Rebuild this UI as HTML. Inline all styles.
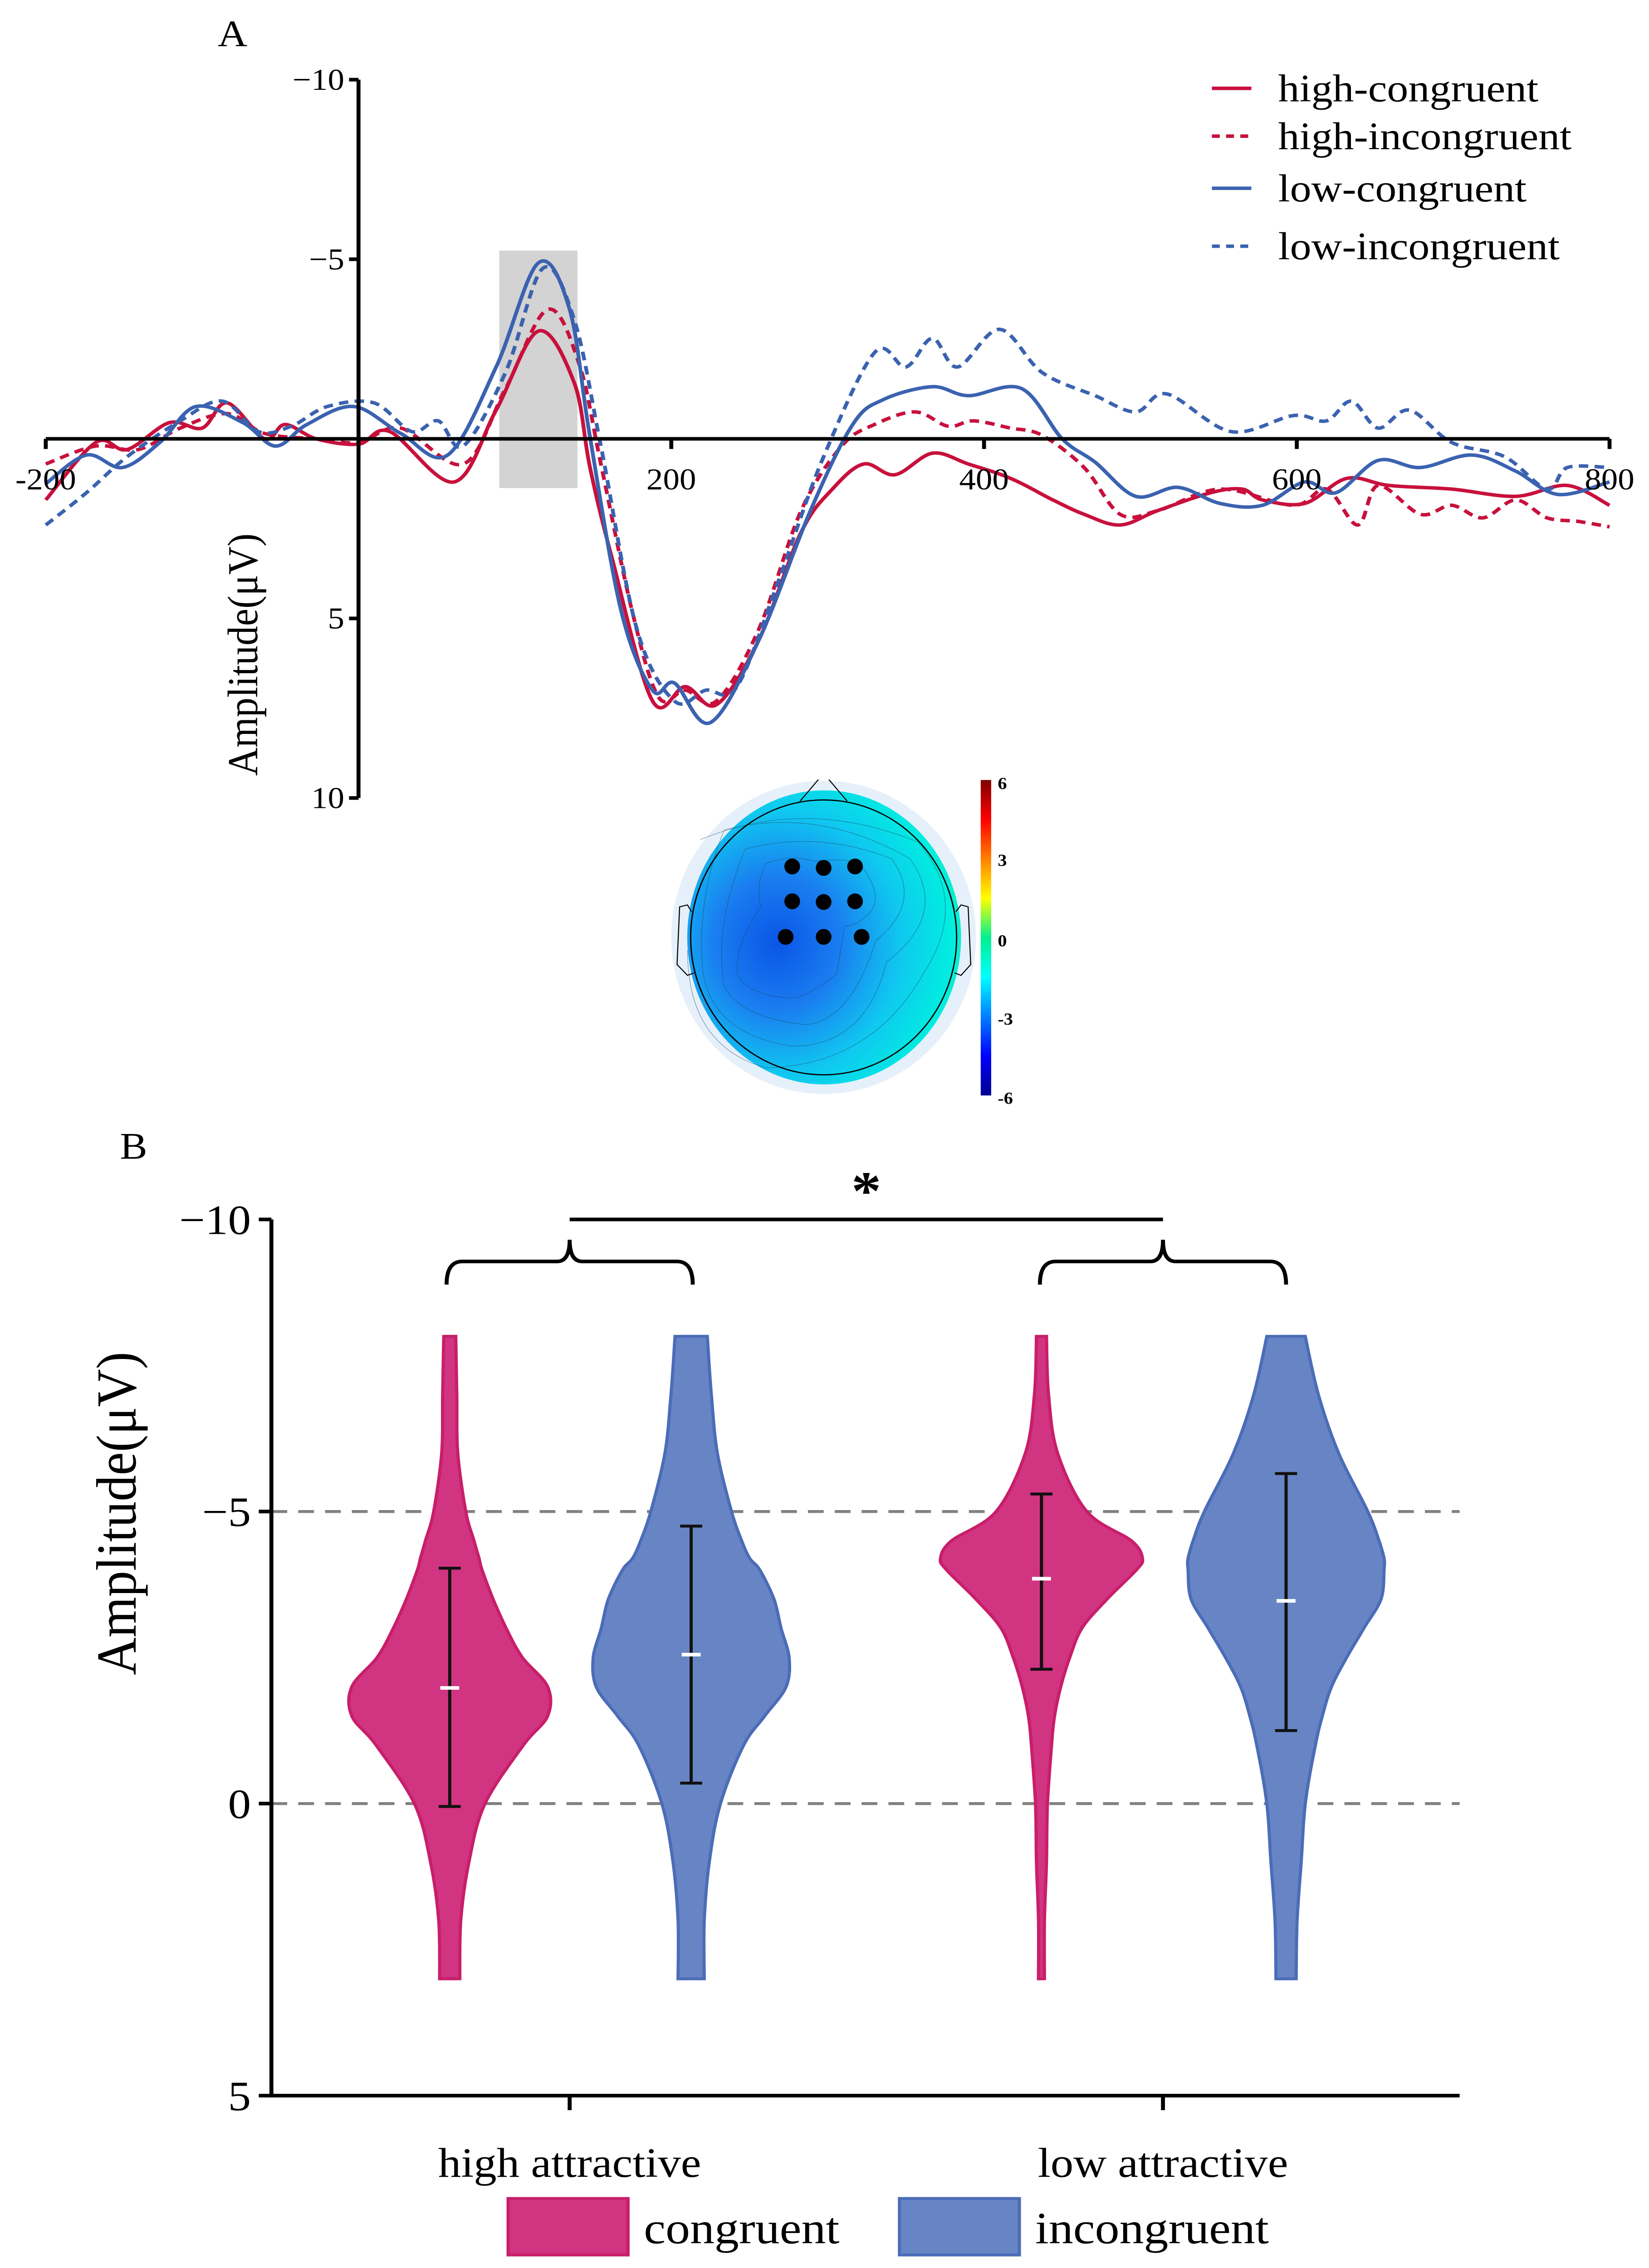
<!DOCTYPE html>
<html><head><meta charset="utf-8"><style>
html,body{margin:0;padding:0;background:#fff;overflow:hidden;width:100vw;height:100vh;}
svg{display:block;font-family:"Liberation Serif",serif;width:100vw;height:100vh;}
</style></head><body>
<svg id="fig" xmlns="http://www.w3.org/2000/svg" viewBox="0 0 1045 1566" preserveAspectRatio="none">
<defs>
<radialGradient id="topo" cx="0.33" cy="0.52" r="0.75">
<stop offset="0" stop-color="#0a55e6"/><stop offset="0.3" stop-color="#1a7df0"/><stop offset="0.6" stop-color="#10c8f0"/><stop offset="0.85" stop-color="#00eee0"/><stop offset="1" stop-color="#30e6a0"/>
</radialGradient>
<linearGradient id="cbar" x1="0" y1="1" x2="0" y2="0">
<stop offset="0" stop-color="#00008f"/><stop offset="0.125" stop-color="#0000ff"/><stop offset="0.375" stop-color="#00ffff"/><stop offset="0.5" stop-color="#00f090"/><stop offset="0.625" stop-color="#ffff00"/><stop offset="0.875" stop-color="#ff0000"/><stop offset="1" stop-color="#800000"/>
</linearGradient>
</defs>
<g id="panelA"><text x="138" y="32" font-size="26">A</text></g>
<g id="topomap" transform="translate(402.5,523.3) scale(0.1659)">
<ellipse cx="720" cy="747" rx="582" ry="652" fill="#e6f0fa"/>
<ellipse cx="722" cy="747" rx="523" ry="612" fill="url(#topo)"/>
<g fill="none" stroke="#1d4a60" stroke-width="2" opacity="0.6">
<path d="M500 440 Q600 400 680 430 Q760 420 850 430 Q950 560 900 640 Q850 700 800 700 L770 900 Q650 1000 600 1000 Q430 990 390 900 Q380 780 480 620 Q460 520 500 440Z"/>
<path d="M420 380 Q700 300 980 420 Q1100 600 920 760 Q820 1100 650 1110 Q400 1080 340 950 Q300 700 420 380Z"/>
<path d="M340 300 Q700 200 1050 420 Q1200 650 960 850 Q880 1200 600 1200 Q300 1150 260 900 Q230 600 340 300Z"/>
<path d="M250 340 Q650 160 1080 350 Q1280 600 1100 900 Q900 1280 500 1290 Q200 1200 200 800"/>
</g>
<ellipse cx="720" cy="747" rx="508" ry="572" fill="none" stroke="#000" stroke-width="5"/>
<path d="M630 180 L700 90 M740 90 L810 180" stroke="#000" stroke-width="4" fill="none"/>
<path d="M215 640 L200 612 L170 620 L160 860 L200 905 L225 895" stroke="#000" stroke-width="4" fill="none"/>
<path d="M1225 640 L1245 612 L1272 620 L1282 860 L1245 905 L1220 895" stroke="#000" stroke-width="4" fill="none"/>
<g id="electrodes" fill="#000"></g>
<rect x="1320" y="92" width="40" height="1313" fill="url(#cbar)"/>
<g font-size="70" font-weight="bold">
<text x="1385" y="130">6</text><text x="1385" y="450">3</text><text x="1385" y="785">0</text><text x="1385" y="1110">-3</text><text x="1385" y="1440">-6</text></g>
</g>
<g id="erp"></g>
<g id="violin"></g>
</svg>
<script>
// ===== ERP data (ms, µV; negative up) =====
const hcTimes=[-200,-168,-148,-121,-100,-84,-60,-47,-27,0,20,61,88,115,138,148,162,188,209,229,256,283,303,323,343,367,390,417,444,464,487,511,545,565,578,605,632,659,699,740,773,800];
const hcValues=[1.7,0.1,0.3,-0.45,-0.3,-1.0,0,-0.4,0,0.15,-0.2,1.2,-0.8,-3.0,-1.55,0.8,3.3,7.3,6.9,7.4,5.6,2.6,1.4,0.7,1.0,0.4,0.7,1.1,1.7,2.1,2.4,2.0,1.5,1.4,1.7,1.8,1.1,1.3,1.4,1.6,1.3,1.85];
const hiTimes=[-200,-168,-141,-114,-84,-60,-27,0,27,67,94,121,141,155,175,192,209,229,256,283,309,330,356,377,393,417,437,464,487,511,551,598,619,639,652,679,699,719,740,760,780,800];
const hiValues=[0.7,0.2,0.3,-0.3,-0.7,-0.15,0,0.1,-0.3,0.7,-1.4,-3.6,-2.1,0.7,4.8,7.2,7.0,7.3,5.3,2.0,0.2,-0.4,-0.75,-0.35,-0.5,-0.3,-0.1,0.8,2.1,2.0,1.4,1.85,1.4,2.4,1.3,2.1,1.85,2.2,1.7,2.2,2.3,2.45];
const lcTimes=[-200,-174,-151,-127,-104,-74,-53,-33,-3,27,57,88,115,135,148,168,188,202,225,256,289,316,336,367,390,424,450,471,497,524,551,578,605,625,652,679,712,740,767,800];
const lcValues=[1.25,0.45,0.8,0.1,-0.9,-0.45,0.2,-0.4,-0.9,-0.15,0.45,-2.0,-4.9,-3.6,-0.05,4.8,7.0,6.8,7.9,5.6,2.0,-0.4,-1.1,-1.45,-1.2,-1.4,0,0.65,1.6,1.35,1.8,1.85,1.2,1.5,0.6,0.8,0.45,0.9,1.55,1.2];
const liTimes=[-200,-174,-148,-114,-87,-64,-43,-20,10,34,51,67,94,118,138,155,178,202,222,242,269,296,330,350,367,383,410,437,471,497,517,558,598,619,635,652,672,699,733,760,773,800];
const liValues=[2.4,1.5,0.5,-0.5,-1.05,-0.2,-0.35,-0.9,-1.0,-0.2,-0.5,0.2,-1.85,-4.75,-3.3,0.2,5.3,7.3,7.0,6.9,3.9,0.65,-2.4,-2.0,-2.8,-2.0,-3.05,-1.85,-1.2,-0.75,-1.25,-0.2,-0.65,-0.5,-1.05,-0.3,-0.8,0.1,0.5,1.4,0.8,0.8];
const erpYTicks=[-10,-5,5,10];
const erpXTicks=[-200,200,400,600,800];
const legendLabels=["high-congruent","high-incongruent","low-congruent","low-incongruent"];
const windowRange=[90,140];
// ===== Violin data =====
const groups=["high attractive","low attractive"];
const conditions=["congruent","incongruent"];
const violinLevels=[-8,-7,-6,-5,-4.5,-4.2,-4,-3.5,-3,-2.5,-2,-1.5,-1,0,1,2,3];
const hcDensity=[0.06,0.07,0.08,0.16,0.24,0.29,0.32,0.43,0.56,0.72,0.97,0.97,0.73,0.35,0.19,0.11,0.10];
const hiDensity=[0.16,0.2,0.26,0.4,0.5,0.58,0.68,0.82,0.89,0.97,0.94,0.73,0.52,0.29,0.18,0.13,0.13];
const lcDensity=[0.05,0.07,0.16,0.45,0.89,1.0,0.94,0.65,0.40,0.28,0.19,0.13,0.1,0.06,0.05,0.03,0.03];
const liDensity=[0.19,0.32,0.52,0.81,0.92,0.97,0.97,0.94,0.77,0.6,0.45,0.36,0.29,0.19,0.15,0.11,0.1];
const violinMeans=[-1.98,-2.55,-3.85,-3.47];
const violinLow=[-4.03,-4.75,-5.3,-5.65];
const violinHigh=[0.05,-0.35,-2.3,-1.25];
const violinYTicks=[-10,-5,0,5];

const NS="http://www.w3.org/2000/svg";
function mk(tag,attrs,parent){const e=document.createElementNS(NS,tag);for(const k in attrs)e.setAttribute(k,attrs[k]);parent.appendChild(e);return e;}
// ---- electrodes
const elec=document.getElementById('electrodes');
const ex=[600,720,840,600,720,840,575,720,865], ey=[452,458,452,597,600,597,745,745,745];
for(let i=0;i<9;i++){const c=mk('ellipse',{cx:ex[i],cy:ey[i],rx:30,ry:33},elec);

}

// ---- ERP chart
const erp=document.getElementById('erp');
const ex0=29,ex1=1020,ey0=55,ey1=551;
const xs=t=>ex0+(t+200)/1000*(ex1-ex0);
const ys=v=>ey0+(v+10)/20*(ey1-ey0);
let r=mk('rect',{x:xs(windowRange[0]),y:173,width:xs(windowRange[1])-xs(windowRange[0]),height:164,fill:'#d3d3d3'},erp);


function smooth(px,py){let d='M'+px[0]+' '+py[0];for(let i=0;i<px.length-1;i++){const p0=i?i-1:0,p3=i+2<px.length?i+2:i+1;
const c1x=px[i]+(px[i+1]-px[p0])/6,c1y=py[i]+(py[i+1]-py[p0])/6,c2x=px[i+1]-(px[p3]-px[i])/6,c2y=py[i+1]-(py[p3]-py[i])/6;
d+=' C'+c1x.toFixed(1)+' '+c1y.toFixed(1)+' '+c2x.toFixed(1)+' '+c2y.toFixed(1)+' '+px[i+1].toFixed(1)+' '+py[i+1].toFixed(1);}return d;}
const series=[[hcTimes,hcValues,'#c8103c',''],[hiTimes,hiValues,'#c8103c','6 4'],[lcTimes,lcValues,'#3a62b0',''],[liTimes,liValues,'#3a62b0','6 4']];
const snames=['high-congruent-line','high-incongruent-line','low-congruent-line','low-incongruent-line'];
series.forEach((s,i)=>{const p=mk('path',{d:smooth(s[0].map(xs),s[1].map(ys)),fill:'none',stroke:s[2],'stroke-width':2.4},erp);
if(s[3])p.setAttribute('stroke-dasharray',s[3]);

});
let a=mk('line',{x1:ex0,y1:ys(0),x2:ex1,y2:ys(0),stroke:'#000','stroke-width':2.5},erp);


a=mk('line',{x1:xs(0),y1:ey0,x2:xs(0),y2:ey1,stroke:'#000','stroke-width':2.5},erp);


erpYTicks.forEach(v=>{mk('line',{x1:xs(0)-6,y1:ys(v),x2:xs(0),y2:ys(v),stroke:'#000','stroke-width':2.5},erp);
const t=mk('text',{x:xs(0)-9,y:ys(v)+7,'font-size':21,'text-anchor':'end'},erp);t.textContent=v<0?'\u2212'+(-v):v;

});
erpXTicks.forEach(v=>{mk('line',{x1:xs(v),y1:ys(0),x2:xs(v),y2:ys(0)+7,stroke:'#000','stroke-width':2.5},erp);
const t=mk('text',{x:xs(v),y:ys(0)+35,'font-size':21,'text-anchor':'middle'},erp);t.textContent=v<0?'-'+(-v):v;

});
let yt=mk('text',{x:0,y:0,'font-size':27,'text-anchor':'middle',transform:'translate(163,452) rotate(-90)'},erp);yt.textContent='Amplitude(\u03bcV)';


const legY=[61,94,130,170];
legendLabels.forEach((l,i)=>{const s=series[i];const ll=mk('line',{x1:768,y1:legY[i],x2:793,y2:legY[i],stroke:s[2],'stroke-width':2.4},erp);
if(s[3])ll.setAttribute('stroke-dasharray','5 4');
const t=mk('text',{x:810,y:legY[i]+9,'font-size':27},erp);t.textContent=l;

});

// ---- Violin chart
const vg=document.getElementById('violin');
const vx0=172,vx1=925,vy0=842,vy1=1447;
const vy=v=>vy0+(v+10)/15*(vy1-vy0);
const vcenters=[285,438,660,815], maxHalf=64;
const dens=[hcDensity,hiDensity,lcDensity,liDensity];
const fills=['#d13480','#6785c4','#d13480','#6785c4'], strokes=['#c81e6a','#4b6cb8','#c81e6a','#4b6cb8'];
const vnames=['violin-high-congruent','violin-high-incongruent','violin-low-congruent','violin-low-incongruent'];
[-5,0].forEach(v=>{const l=mk('line',{x1:vx0,y1:vy(v),x2:vx1,y2:vy(v),stroke:'#808080','stroke-width':2,'stroke-dasharray':'10 7'},vg);

});
dens.forEach((d,i)=>{const c=vcenters[i];const py=violinLevels.map(vy);
const R=smooth(d.map(w=>c+w*maxHalf),py);const Lx=d.map(w=>c-w*maxHalf).reverse(),Ly=py.slice().reverse();
const L=smooth(Lx,Ly).replace(/^M/,' L');
const p=mk('path',{d:R+L+' Z',fill:fills[i],stroke:strokes[i],'stroke-width':2},vg);


const e=mk('path',{d:`M${c} ${vy(violinLow[i])} L${c} ${vy(violinHigh[i])} M${c-7} ${vy(violinLow[i])} h14 M${c-7} ${vy(violinHigh[i])} h14`,stroke:'#111','stroke-width':2,fill:'none'},vg);


const m=mk('line',{x1:c-6,y1:vy(violinMeans[i]),x2:c+6,y2:vy(violinMeans[i]),stroke:'#fff','stroke-width':2.5},vg);

});
a=mk('path',{d:`M${vx0} ${vy0} L${vx0} ${vy1} L${vx1} ${vy1}`,stroke:'#000','stroke-width':2.5,fill:'none'},vg);


violinYTicks.forEach(v=>{mk('line',{x1:vx0-8,y1:vy(v),x2:vx0,y2:vy(v),stroke:'#000','stroke-width':2.5},vg);
const t=mk('text',{x:vx0-13,y:vy(v)+10,'font-size':29,'text-anchor':'end'},vg);t.textContent=v<0?'\u2212'+(-v):v;

});
const gx=[361,737];
groups.forEach((g,i)=>{mk('line',{x1:gx[i],y1:vy1,x2:gx[i],y2:vy1+10,stroke:'#000','stroke-width':2.5},vg);
const t=mk('text',{x:gx[i],y:1503,'font-size':29,'text-anchor':'middle'},vg);t.textContent=g;


const b=mk('path',{d:`M${gx[i]-78} 887 Q${gx[i]-78} 871 ${gx[i]-68} 871 L${gx[i]-8} 871 Q${gx[i]} 871 ${gx[i]} 856 Q${gx[i]} 871 ${gx[i]+8} 871 L${gx[i]+68} 871 Q${gx[i]+78} 871 ${gx[i]+78} 887`,stroke:'#000','stroke-width':2.5,fill:'none'},vg);

});
let sl=mk('line',{x1:gx[0],y1:842,x2:gx[1],y2:842,stroke:'#000','stroke-width':2.5},vg);


let st=mk('text',{x:549,y:835,'font-size':38,'font-weight':'bold','text-anchor':'middle'},vg);st.textContent='*';


yt=mk('text',{x:0,y:0,'font-size':36,'text-anchor':'middle',transform:'translate(86,1045) rotate(-90)'},vg);yt.textContent='Amplitude(\u03bcV)';


let bl=mk('text',{x:76,y:800,'font-size':26},vg);bl.textContent='B';


const lgx=[322,570];
conditions.forEach((c,i)=>{const rr=mk('rect',{x:lgx[i],y:1518,width:76,height:39,fill:fills[i],stroke:strokes[i],'stroke-width':2},vg);


const t=mk('text',{x:lgx[i]+86,y:1549,'font-size':31},vg);t.textContent=c;

});
</script>
</body></html>
